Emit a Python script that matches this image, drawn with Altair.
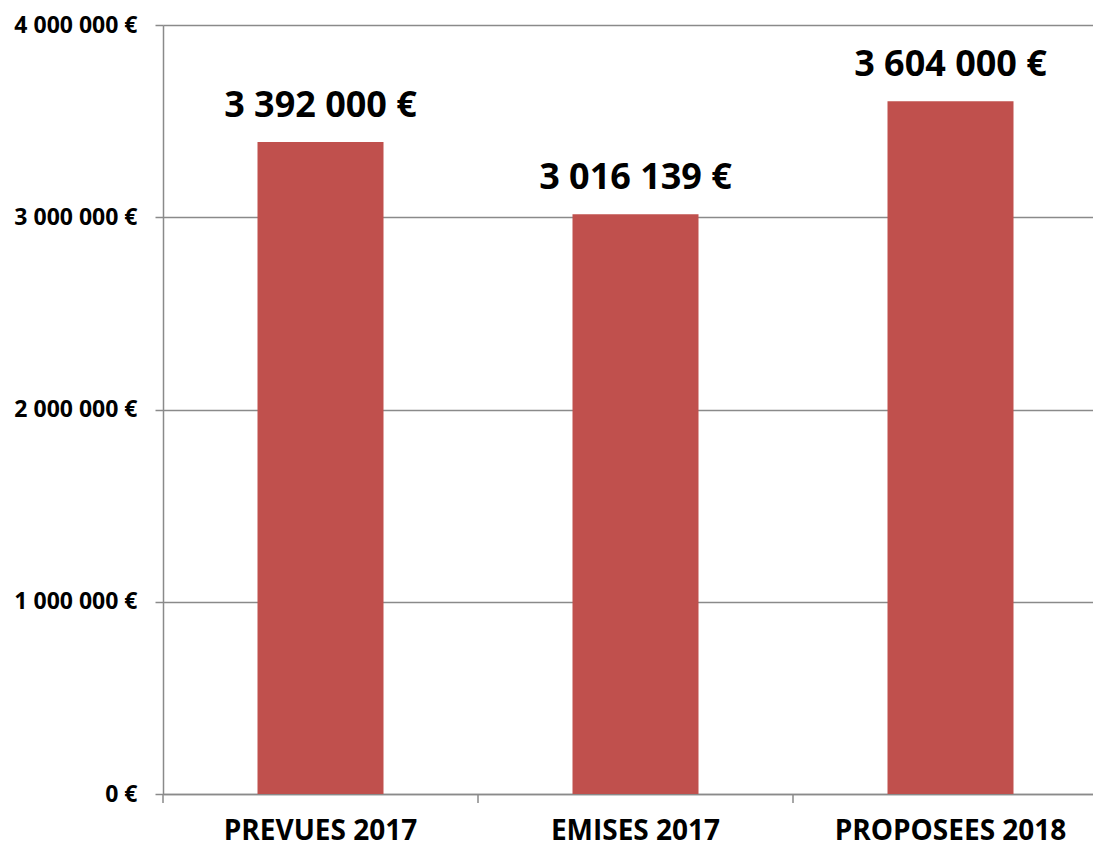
import altair as alt
import pandas as pd

categories = ["PREVUES 2017", "EMISES 2017", "PROPOSEES 2018"]
values = [3392000, 3016139, 3604000]


def fmt(v):
    return f"{v:,}".replace(",", " ") + " €"


df = pd.DataFrame({
    "cat": categories,
    "val": values,
    "label": [fmt(v) for v in values],
})

FONT = "Open Sans"
GRAY = "#8a8a8a"
W = 945
H = 769
STEP = W / 3

x = alt.X(
    "cat:N",
    sort=categories,
    title=None,
    scale=alt.Scale(paddingInner=0.6, paddingOuter=0.3),
    axis=alt.Axis(
        labelAngle=0,
        labelFont=FONT,
        labelFontSize=28,
        labelFontWeight="bold",
        labelColor="black",
        labelPadding=23,
        labelLimit=0,
        ticks=False,
        domainColor=GRAY,
        domainWidth=1.5,
        grid=False,
    ),
)

y = alt.Y(
    "val:Q",
    title=None,
    scale=alt.Scale(domain=[0, 4000000], nice=False),
    axis=alt.Axis(
        values=[0, 1000000, 2000000, 3000000, 4000000],
        labelExpr="replace(format(datum.value, ','), regexp(',', 'g'), ' ') + ' €'",
        labelFont=FONT,
        labelFontSize=23,
        labelFontWeight="bold",
        labelColor="black",
        labelPadding=18,
        labelLimit=0,
        tickSize=8,
        tickColor=GRAY,
        tickWidth=1.5,
        domainColor=GRAY,
        domainWidth=1.5,
        gridColor=GRAY,
        gridOpacity=1,
        gridWidth=1.5,
    ),
)

bars = alt.Chart(df).mark_bar(color="#C0504D").encode(x=x, y=y)

ticks = alt.Chart(df).mark_rule(
    color=GRAY, strokeWidth=1.5, xOffset=-0.3 * STEP
).encode(
    x=alt.X("cat:N", sort=categories, bandPosition=0),
    y=alt.value(H),
    y2=alt.value(H + 9),
)

labels = alt.Chart(df).mark_text(
    font=FONT,
    fontSize=36,
    fontWeight="bold",
    color="black",
    baseline="alphabetic",
    align="center",
    dy=-25,
).encode(x=alt.X("cat:N", sort=categories), y=alt.Y("val:Q"), text="label:N")

chart = (
    alt.layer(bars, ticks, labels)
    .properties(
        width=W,
        height=H,
        autosize=alt.AutoSizeParams(type="none"),
        padding={"left": 155, "top": 17, "right": -15, "bottom": 54},
    )
    .configure_view(stroke=None)
)

chart.save("out.html", embed_options={"renderer": "svg", "actions": False})
